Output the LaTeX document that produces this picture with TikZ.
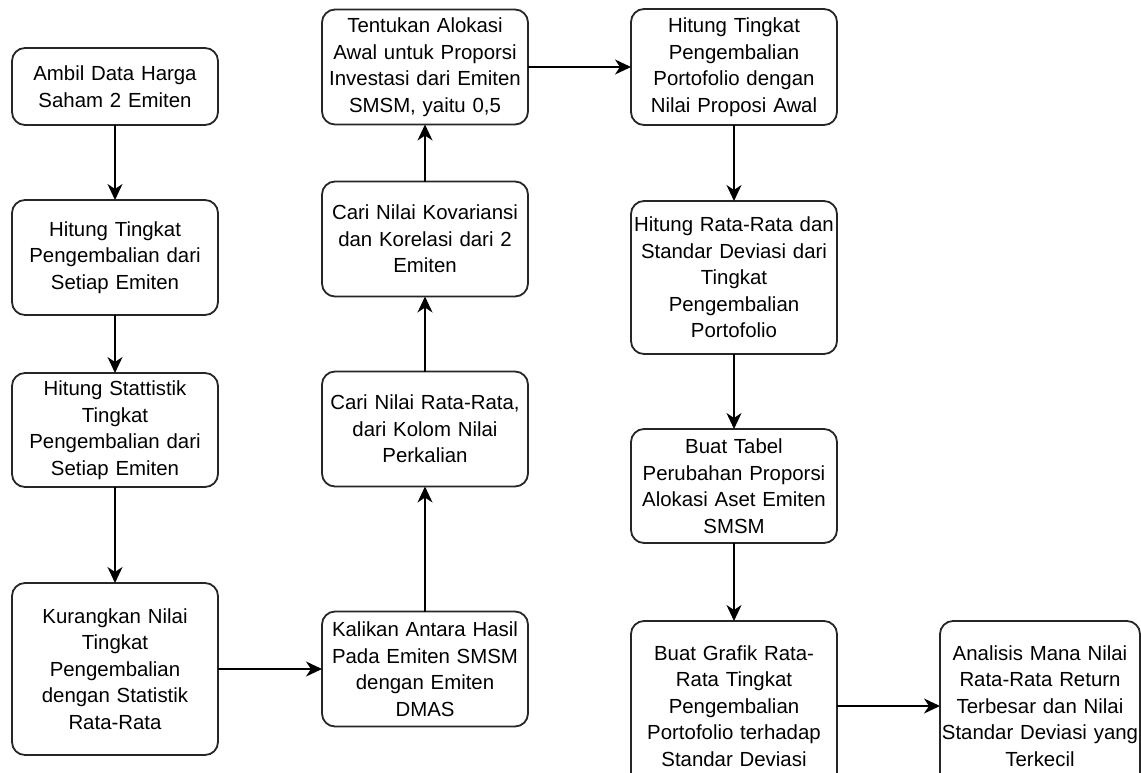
\documentclass[tikz,border=0pt]{standalone}
\usepackage{fontspec}
\setmainfont{Liberation Sans}
\usetikzlibrary{arrows.meta,positioning}
\hyphenpenalty=10000
\exhyphenpenalty=10000

\begin{document}
\begin{tikzpicture}[
    node distance=75pt and 104pt,
    box/.style={draw=black!85,line width=1.8pt,rounded corners=13pt,align=center,
                font=\fontsize{20.4}{26.5}\selectfont,
                text width=202pt,inner xsep=2pt,inner ysep=0pt,outer sep=0pt,minimum height=115pt},
    flow/.style={-{Stealth[length=16pt,width=15pt,inset=5pt]},line width=1.6pt},
  ]
  \useasboundingbox (0,0) rectangle (1141pt,-772pt);
  \clip (0,0) rectangle (1141pt,-772pt);

  % first column, top to bottom
  \node[box,minimum height=77pt,anchor=north west] (ambil) at (12pt,-48pt) {Ambil Data Harga\\Saham 2 Emiten};
  \node[box,below=of ambil] (hitung) {Hitung Tingkat\\Pengembalian dari\\Setiap Emiten};
  \node[box,below=58pt of hitung,minimum height=114pt] (statistik) {Hitung Stattistik\\Tingkat\\Pengembalian dari\\Setiap Emiten};
  \node[box,below=96pt of statistik,minimum height=172pt] (kurang) {Kurangkan Nilai\\Tingkat\\Pengembalian\\dengan Statistik\\Rata-Rata};

  % second column, bottom to top
  \node[box,right=of kurang] (kali) {Kalikan Antara Hasil\\Pada Emiten SMSM\\dengan Emiten\\DMAS};
  \node[box,above=125pt of kali] (rata) {Cari Nilai Rata-Rata,\\dari Kolom Nilai\\Perkalian};
  \node[box,above=of rata] (kovar) {Cari Nilai Kovariansi\\dan Korelasi dari 2\\Emiten};
  \node[box,above=57pt of kovar] (alokasi) {Tentukan Alokasi\\Awal untuk Proporsi\\Investasi dari Emiten\\SMSM, yaitu 0,5};

  % third column and the last step
  \node[box,right=103pt of alokasi,minimum height=116pt] (porto) {Hitung Tingkat\\Pengembalian\\Portofolio dengan\\Nilai Proposi Awal};
  \node[box,below=76pt of porto,minimum height=153pt] (stdev) {Hitung Rata-Rata dan\\Standar Deviasi dari\\Tingkat\\Pengembalian\\Portofolio};
  \node[box,below=of stdev,minimum height=114pt] (tabel) {Buat Tabel\\Perubahan Proporsi\\Alokasi Aset Emiten\\SMSM};
  \node[box,below=78pt of tabel,minimum height=170pt] (grafik) {Buat Grafik Rata-\\Rata Tingkat\\Pengembalian\\Portofolio terhadap\\Standar Deviasi};
  \node[box,right=103pt of grafik,minimum height=170pt,text width=200pt,inner xsep=0pt] (analisis) {Analisis Mana Nilai\\Rata-Rata Return\\Terbesar dan Nilai\\Standar Deviasi yang\\Terkecil};

  \draw[flow] (ambil) -- (hitung);
  \draw[flow] (hitung) -- (statistik);
  \draw[flow] (statistik) -- (kurang);
  \draw[flow] (kurang) -- (kali);
  \draw[flow] (kali) -- (rata);
  \draw[flow] (rata) -- (kovar);
  \draw[flow] (kovar) -- (alokasi);
  \draw[flow] (alokasi) -- (porto);
  \draw[flow] (porto) -- (stdev);
  \draw[flow] (stdev) -- (tabel);
  \draw[flow] (tabel) -- (grafik);
  \draw[flow] (grafik) -- (analisis);
\end{tikzpicture}
\end{document}
